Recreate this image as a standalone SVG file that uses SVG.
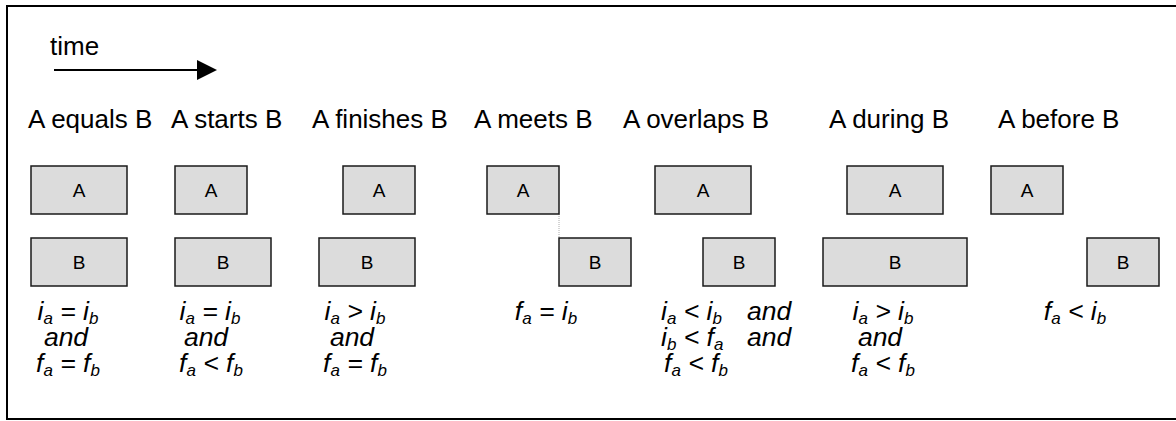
<svg xmlns="http://www.w3.org/2000/svg" width="1176" height="421" viewBox="0 0 1176 421">
<style>
.t{font-family:"Liberation Sans",Arial,sans-serif;font-size:26px;fill:#000}
.bx rect{fill:#dcdcdc;stroke:#1a1a1a;stroke-width:1.5}
.bx text{font-family:"Liberation Sans",Arial,sans-serif;font-size:19px;text-anchor:middle;fill:#000}
.m{font-family:"Liberation Sans",Arial,sans-serif;font-size:26.5px;font-style:italic;fill:#000}
.c{text-anchor:middle}
.s{font-size:17px}
</style>
<rect x="7" y="6" width="1176" height="413" fill="#fff" stroke="#000" stroke-width="2"/>
<g id="time">
<text class="t" x="50" y="55">time</text>
</g>
<g id="connectors">
<line x1="54" y1="70" x2="199" y2="70" stroke="#000" stroke-width="2"/>
<polygon points="197,60 217,70 197,80" fill="#000"/>
<line x1="559" y1="214" x2="559" y2="238" stroke="#aaa" stroke-width="1" stroke-dasharray="1,1"/>
</g>
<g id="titles">
<text class="t" x="28" y="128">A equals B</text>
<text class="t" x="171" y="128">A starts B</text>
<text class="t" x="312" y="128">A finishes B</text>
<text class="t" x="474" y="128">A meets B</text>
<text class="t" x="623" y="128">A overlaps B</text>
<text class="t" x="829" y="128">A during B</text>
<text class="t" x="998" y="128">A before B</text>
</g>
<g id="equals" class="bx">
<rect x="31" y="166" width="96" height="48"/><text x="79" y="197">A</text>
<rect x="31" y="238" width="96" height="48"/><text x="79" y="269">B</text>
</g>
<g id="starts" class="bx">
<rect x="175" y="166" width="72" height="48"/><text x="211" y="197">A</text>
<rect x="175" y="238" width="96" height="48"/><text x="223" y="269">B</text>
</g>
<g id="finishes" class="bx">
<rect x="343" y="166" width="72" height="48"/><text x="379" y="197">A</text>
<rect x="319" y="238" width="96" height="48"/><text x="367" y="269">B</text>
</g>
<g id="meets" class="bx">
<rect x="487" y="166" width="72" height="48"/><text x="523" y="197">A</text>
<rect x="559" y="238" width="72" height="48"/><text x="595" y="269">B</text>
</g>
<g id="overlaps" class="bx">
<rect x="655" y="166" width="96" height="48"/><text x="703" y="197">A</text>
<rect x="703" y="238" width="72" height="48"/><text x="739" y="269">B</text>
</g>
<g id="during" class="bx">
<rect x="847" y="166" width="96" height="48"/><text x="895" y="197">A</text>
<rect x="823" y="238" width="144" height="48"/><text x="895" y="269">B</text>
</g>
<g id="before" class="bx">
<rect x="991" y="166" width="72" height="48"/><text x="1027" y="197">A</text>
<rect x="1087" y="238" width="72" height="48"/><text x="1123" y="269">B</text>
</g>
<g id="conditions">
<text class="m c" x="68" y="320">i<tspan class="s" dy="4">a</tspan><tspan dy="-4"> = i</tspan><tspan class="s" dy="4">b</tspan></text>
<text class="m c" x="66" y="346">and</text>
<text class="m c" x="68" y="372">f<tspan class="s" dy="4">a</tspan><tspan dy="-4"> = f</tspan><tspan class="s" dy="4">b</tspan></text>

<text class="m c" x="210" y="320">i<tspan class="s" dy="4">a</tspan><tspan dy="-4"> = i</tspan><tspan class="s" dy="4">b</tspan></text>
<text class="m c" x="206" y="346">and</text>
<text class="m c" x="211" y="372">f<tspan class="s" dy="4">a</tspan><tspan dy="-4"> &lt; f</tspan><tspan class="s" dy="4">b</tspan></text>

<text class="m c" x="355" y="320">i<tspan class="s" dy="4">a</tspan><tspan dy="-4"> &gt; i</tspan><tspan class="s" dy="4">b</tspan></text>
<text class="m c" x="352" y="346">and</text>
<text class="m c" x="355" y="372">f<tspan class="s" dy="4">a</tspan><tspan dy="-4"> = f</tspan><tspan class="s" dy="4">b</tspan></text>

<text class="m c" x="546" y="320">f<tspan class="s" dy="4">a</tspan><tspan dy="-4"> = i</tspan><tspan class="s" dy="4">b</tspan></text>

<text class="m" x="661" y="320">i<tspan class="s" dy="4">a</tspan><tspan dy="-4"> &lt; i</tspan><tspan class="s" dy="4">b</tspan></text>
<text class="m" x="747" y="320">and</text>
<text class="m" x="661" y="346">i<tspan class="s" dy="4">b</tspan><tspan dy="-4"> &lt; f</tspan><tspan class="s" dy="4">a</tspan></text>
<text class="m" x="747" y="346">and</text>
<text class="m" x="664" y="372">f<tspan class="s" dy="4">a</tspan><tspan dy="-4"> &lt; f</tspan><tspan class="s" dy="4">b</tspan></text>

<text class="m c" x="883" y="320">i<tspan class="s" dy="4">a</tspan><tspan dy="-4"> &gt; i</tspan><tspan class="s" dy="4">b</tspan></text>
<text class="m c" x="880" y="346">and</text>
<text class="m c" x="883" y="372">f<tspan class="s" dy="4">a</tspan><tspan dy="-4"> &lt; f</tspan><tspan class="s" dy="4">b</tspan></text>

<text class="m c" x="1075" y="320">f<tspan class="s" dy="4">a</tspan><tspan dy="-4"> &lt; i</tspan><tspan class="s" dy="4">b</tspan></text>
</g>
</svg>
